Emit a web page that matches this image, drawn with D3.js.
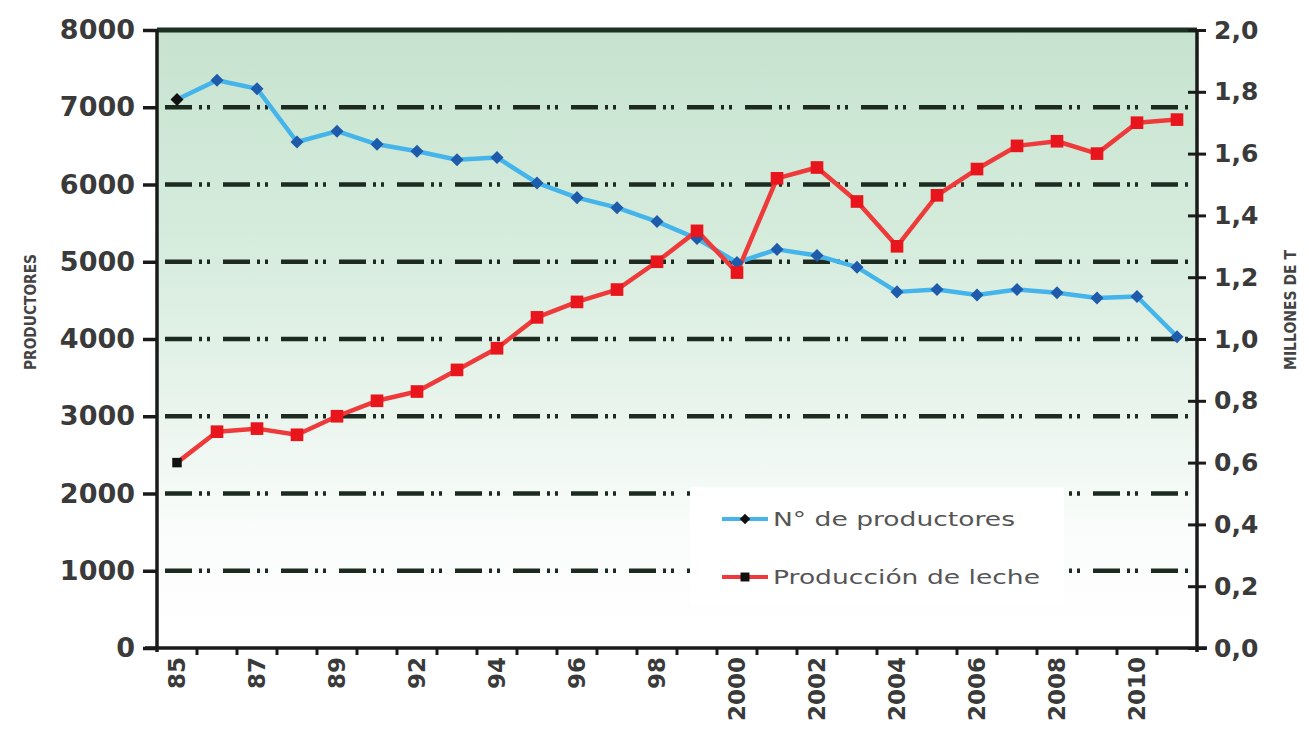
<!DOCTYPE html>
<html>
<head>
<meta charset="utf-8">
<script src="https://cdn.jsdelivr.net/npm/d3@7"></script>
<style>
  html, body { margin: 0; padding: 0; background: #ffffff; }
  svg { display: block; }
  text { font-family: "DejaVu Sans", sans-serif; }
</style>
</head>
<body>
<svg id="chart" width="1309" height="730"></svg>
<script>
// ---- data ----
const categories = ["85","86","87","88","89","91","92","93","94","95","96","97","98","99",
  "2000","2001","2002","2003","2004","2005","2006","2007","2008","2009","2010","2011"];
const productores = [7100,7350,7240,6550,6690,6520,6430,6320,6350,6020,5830,5700,5520,5300,
  4990,5160,5080,4930,4610,4640,4570,4640,4600,4530,4550,4030];
const leche = [0.60,0.70,0.71,0.69,0.75,0.80,0.83,0.90,0.97,1.07,1.12,1.16,1.25,1.35,
  1.215,1.52,1.555,1.445,1.30,1.465,1.55,1.625,1.64,1.60,1.70,1.71];
const leftTicks = [0,1000,2000,3000,4000,5000,6000,7000,8000];
const gridValues = [1000,2000,3000,4000,5000,6000,7000];
const rightTicks = [0,0.2,0.4,0.6,0.8,1.0,1.2,1.4,1.6,1.8,2.0];
const xLabels = categories.filter((d, i) => i % 2 === 0);
const seriesNames = ["N\u00b0 de productores", "Producci\u00f3n de leche"];
const leftTitle = "PRODUCTORES";
const rightTitle = "MILLONES DE T";

// ---- layout ----
const L = 157, R = 1197, T = 30, B = 648;
const svg = d3.select("#chart");

const x = d3.scaleBand().domain(categories).range([L, R]).padding(0);
const yL = d3.scaleLinear().domain([0, 8000]).range([B, T]);
const yR = d3.scaleLinear().domain([0, 2]).range([B, T]);
const cx = d => x(d) + x.bandwidth() / 2;

// background gradient
const defs = svg.append("defs");
const grad = defs.append("linearGradient").attr("id", "bg").attr("x1", 0).attr("y1", 0).attr("x2", 0).attr("y2", 1);
grad.append("stop").attr("offset", "0%").attr("stop-color", "#c6e3cf");
grad.append("stop").attr("offset", "35%").attr("stop-color", "#d6ecdd");
grad.append("stop").attr("offset", "60%").attr("stop-color", "#e8f4ec");
grad.append("stop").attr("offset", "80%").attr("stop-color", "#f9fcfa");
grad.append("stop").attr("offset", "100%").attr("stop-color", "#ffffff");
svg.append("rect").attr("x", L).attr("y", T).attr("width", R - L).attr("height", B - T).attr("fill", "url(#bg)");

// gridlines (dash-dot-dot)
svg.append("g").selectAll("line").data(gridValues).join("line")
  .attr("x1", L + 8).attr("x2", R - 6)
  .attr("y1", d => yL(d)).attr("y2", d => yL(d))
  .attr("stroke", "#1c2a20").attr("stroke-width", 4.5)
  .attr("stroke-dasharray", "27,7,3,5,3,13");

// top border
svg.append("line").attr("x1", L).attr("x2", R).attr("y1", T).attr("y2", T)
  .attr("stroke", "#1d3024").attr("stroke-width", 5);

// legend box (covers gridlines)
const lg = svg.append("g");
lg.append("rect").attr("x", 690).attr("y", 487).attr("width", 374).attr("height", 118).attr("fill", "#ffffff");

// left axis
const axL = svg.append("g").attr("transform", `translate(${L},0)`)
  .call(d3.axisLeft(yL).tickValues(leftTicks).tickSize(14).tickPadding(8).tickFormat(d3.format("d")));
axL.select(".domain").attr("stroke", "#1a1a1a").attr("stroke-width", 3.5).attr("d", `M0,${T}V${B + 4}`);
axL.selectAll(".tick line").attr("stroke", "#1a1a1a").attr("stroke-width", 3.5);
axL.selectAll(".tick text").attr("font-size", 27).attr("font-weight", "bold").attr("fill", "#3a3a3a")
  .style("font-family", "DejaVu Sans");

// right axis
const axR = svg.append("g").attr("transform", `translate(${R},0)`)
  .call(d3.axisRight(yR).tickValues(rightTicks).tickSize(9).tickPadding(8)
    .tickFormat(d => d.toFixed(1).replace(".", ",")));
axR.select(".domain").attr("stroke", "#1a1a1a").attr("stroke-width", 3.5).attr("d", `M0,${T}V${B + 4}`);
axR.selectAll(".tick line").attr("x1", -9).attr("x2", 9).attr("stroke", "#1a1a1a").attr("stroke-width", 3);
axR.selectAll(".tick text").attr("font-size", 25).attr("font-weight", "bold").attr("fill", "#3a3a3a")
  .style("font-family", "DejaVu Sans");

// bottom axis
const axB = svg.append("g").attr("transform", `translate(0,${B})`)
  .call(d3.axisBottom(x).tickValues(xLabels).tickSize(0).tickPadding(0));
axB.select(".domain").attr("stroke", "#1a1a1a").attr("stroke-width", 3.5).attr("d", `M${L - 12},0H${R + 10}`);
axB.selectAll(".tick text")
  .attr("transform", "translate(0,9) rotate(-90)")
  .attr("text-anchor", "end").attr("x", 0).attr("y", 0).attr("dy", "0.35em")
  .attr("font-size", 23).attr("font-weight", "bold").attr("fill", "#3a3a3a")
  .style("font-family", "DejaVu Sans");
// category boundary ticks
svg.append("g").selectAll("line").data(categories.slice(1)).join("line")
  .attr("x1", d => x(d)).attr("x2", d => x(d))
  .attr("y1", B).attr("y2", B + 7)
  .attr("stroke", "#1a1a1a").attr("stroke-width", 3);

// axis titles
svg.append("text").attr("transform", `translate(36,312) rotate(-90)`)
  .attr("text-anchor", "middle").attr("font-size", 15).attr("font-weight", "bold").attr("fill", "#444")
  .attr("textLength", 116).attr("lengthAdjust", "spacingAndGlyphs")
  .text(leftTitle);
svg.append("text").attr("transform", `translate(1296,310) rotate(-90)`)
  .attr("text-anchor", "middle").attr("font-size", 15).attr("font-weight", "bold").attr("fill", "#444")
  .attr("textLength", 120).attr("lengthAdjust", "spacingAndGlyphs")
  .text(rightTitle);

// series lines
const lineL = d3.line().x((d, i) => cx(categories[i])).y(d => yL(d));
const lineR = d3.line().x((d, i) => cx(categories[i])).y(d => yR(d));

svg.append("path").datum(productores).attr("d", lineL)
  .attr("fill", "none").attr("stroke", "#45b4ea").attr("stroke-width", 4.5).attr("stroke-linejoin", "round");
svg.append("path").datum(leche).attr("d", lineR)
  .attr("fill", "none").attr("stroke", "#ee3a3a").attr("stroke-width", 4.5).attr("stroke-linejoin", "round");

// markers
svg.append("g").selectAll("path").data(productores).join("path")
  .attr("transform", (d, i) => `translate(${cx(categories[i])},${yL(d)}) rotate(45)`)
  .attr("d", d3.symbol(d3.symbolSquare, 85)())
  .attr("fill", (d, i) => i === 0 ? "#111" : "#1f5bab");
svg.append("g").selectAll("path").data(leche).join("path")
  .attr("transform", (d, i) => `translate(${cx(categories[i])},${yR(d)})`)
  .attr("d", (d, i) => d3.symbol(d3.symbolSquare, i === 0 ? 90 : 160)())
  .attr("fill", (d, i) => i === 0 ? "#111" : "#e8151c");

// legend items
const legendColors = ["#45b4ea", "#ee3a3a"];
const legendY = [519, 577];
const legendW = [242, 267];
seriesNames.forEach((name, i) => {
  lg.append("line").attr("x1", 722).attr("x2", 768).attr("y1", legendY[i]).attr("y2", legendY[i])
    .attr("stroke", legendColors[i]).attr("stroke-width", 4);
  lg.append("path")
    .attr("transform", `translate(745,${legendY[i]})${i === 0 ? " rotate(45)" : ""}`)
    .attr("d", d3.symbol(d3.symbolSquare, i === 0 ? 55 : 80)())
    .attr("fill", "#111");
  lg.append("text").attr("x", 773).attr("y", legendY[i] + 7)
    .attr("font-size", 19).attr("fill", "#555")
    .attr("textLength", legendW[i]).attr("lengthAdjust", "spacingAndGlyphs")
    .text(name);
});
</script>
</body>
</html>
